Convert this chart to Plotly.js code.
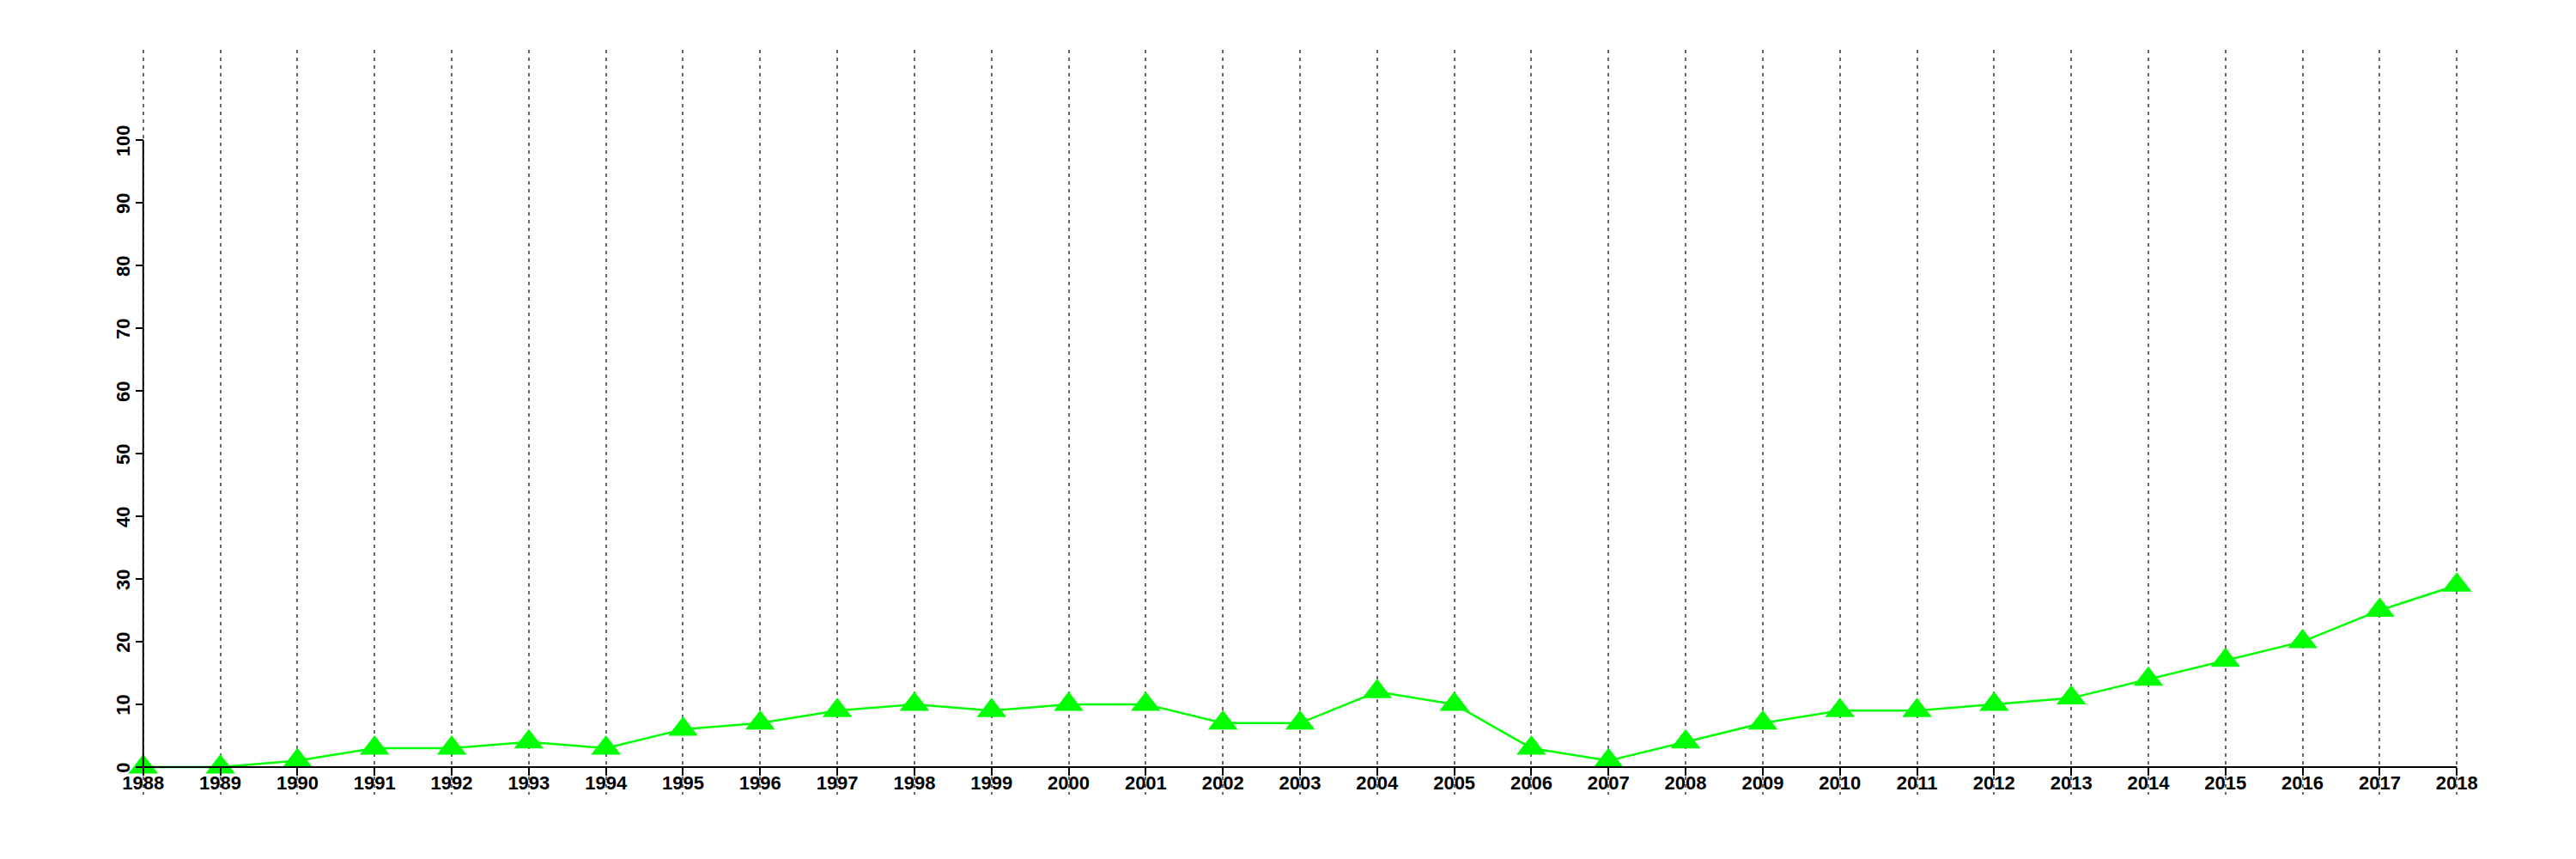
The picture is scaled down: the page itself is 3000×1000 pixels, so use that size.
<!DOCTYPE html>
<html>
<head>
<meta charset="utf-8">
<script src="https://cdn.plot.ly/plotly-3.0.1.min.js"></script>
<style>html,body{margin:0;padding:0;background:#fff;}</style>
</head>
<body>
<div id="chart" style="width:3000px;height:1000px;"></div>
<script>
const years = [1988,1989,1990,1991,1992,1993,1994,1995,1996,1997,1998,1999,2000,2001,2002,2003,2004,2005,2006,2007,2008,2009,2010,2011,2012,2013,2014,2015,2016,2017,2018];
const values = [0,0,1,3,3,4,3,6,7,9,10,9,10,10,7,7,12,10,3,1,4,7,9,9,10,11,14,17,20,25,29];
const yTicks = [0,10,20,30,40,50,60,70,80,90,100];

const xMin = years[0], xMax = years[years.length-1];
const yMin = 0, yMax = 110;
const xPad = (xMax - xMin) * 0.04, yPad = (yMax - yMin) * 0.04;
const xRange = [xMin - xPad, xMax + xPad];
const yRange = [yMin - yPad, yMax + yPad];
const xPos = (xMin - xRange[0]) / (xRange[1] - xRange[0]);
const yPos = (0 - yRange[0]) / (yRange[1] - yRange[0]);

const font = {family: 'Liberation Sans, Arial, sans-serif', size: 22, color: '#000'};

const trace = {
  x: years, y: values, type: 'scatter', mode: 'lines+markers',
  line: {color: '#00FF00', width: 2.5},
  marker: {symbol: 'triangle-up', size: 30, color: '#00FF00', line: {width: 0}},
  cliponaxis: false, showlegend: false
};

const layout = {
  width: 3000, height: 1000,
  margin: {l: 59, r: 31, t: 58, b: 75},
  paper_bgcolor: '#fff', plot_bgcolor: '#fff',
  font: font,
  xaxis: {
    range: xRange, anchor: 'free', position: yPos,
    tickvals: years, ticktext: years.map(String),
    showgrid: true, gridcolor: '#6a6a6a', gridwidth: 2, griddash: '4px,5px',
    ticks: 'outside', ticklen: 9, tickwidth: 2, tickcolor: '#000',
    ticklabelstandoff: -10,
    showline: false, zeroline: false,
    tickfont: {family: font.family, size: 22, color: '#000', weight: 'bold'}
  },
  yaxis: {
    range: yRange, anchor: 'free', position: xPos,
    tickvals: yTicks, ticktext: yTicks.map(String), tickangle: -90,
    ticklabelshift: 4, ticklabelstandoff: -2,
    showgrid: false, zeroline: false, showline: false,
    ticks: 'outside', ticklen: 9, tickwidth: 2, tickcolor: '#000',
    tickfont: {family: font.family, size: 22, color: '#000', weight: 'bold'}
  },
  shapes: [
    {type: 'line', xref: 'x', yref: 'y', x0: xMin, x1: xMax, y0: 0, y1: 0, line: {color: '#000', width: 2}},
    {type: 'line', xref: 'x', yref: 'y', x0: xMin, x1: xMin, y0: yTicks[0], y1: yTicks[yTicks.length-1], line: {color: '#000', width: 2}}
  ]
};

Plotly.newPlot('chart', [trace], layout, {displayModeBar: false, staticPlot: true});
</script>
</body>
</html>
